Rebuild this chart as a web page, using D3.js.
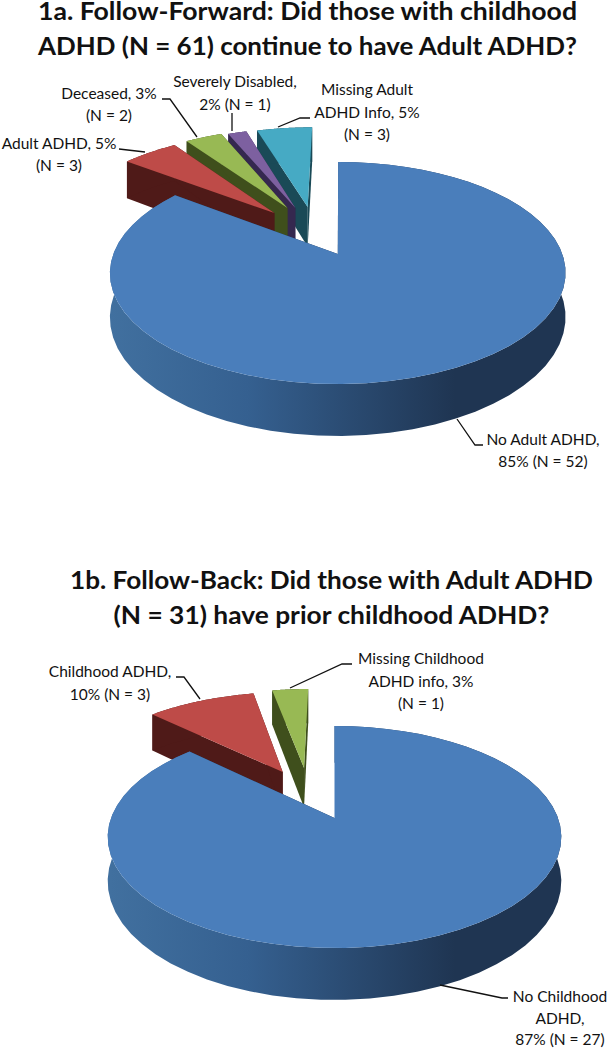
<!DOCTYPE html>
<html>
<head>
<meta charset="utf-8">
<script src="https://cdn.jsdelivr.net/npm/d3@7"></script>
<style>
  body { margin: 0; background: #fff; }
  text { font-family: Lato, "Open Sans", sans-serif; fill: #111; }
</style>
</head>
<body>
<div id="chart"></div>
<script>
// data
var categoriesA = ["No Adult ADHD", "Adult ADHD", "Deceased", "Severely Disabled", "Missing Adult ADHD Info"];
var valuesA = [52, 3, 2, 1, 3];
var categoriesB = ["No Childhood ADHD", "Childhood ADHD", "Missing Childhood ADHD info"];
var valuesB = [27, 3, 1];

var titleA = ["1a. Follow-Forward: Did those with childhood", "ADHD (N = 61) continue to have Adult ADHD?"];
var titleB = ["1b. Follow-Back: Did those with Adult ADHD", "(N = 31) have prior childhood ADHD?"];

var labelsA = [
  ["No Adult ADHD,", "85% (N = 52)"],
  ["Adult ADHD, 5%", "(N = 3)"],
  ["Deceased, 3%", "(N = 2)"],
  ["Severely Disabled,", "2% (N = 1)"],
  ["Missing Adult", "ADHD Info, 5%", "(N = 3)"]
];
var labelsB = [
  ["No Childhood", "ADHD,", "87% (N = 27)"],
  ["Childhood ADHD,", "10% (N = 3)"],
  ["Missing Childhood", "ADHD info, 3%", "(N = 1)"]
];

// slice colours: top, side
var tops = ["#4a7ebb", "#be4b48", "#98b954", "#7d60a0", "#46aac4"];
var sides = ["#1f3552", "#4f1a18", "#3f4f1c", "#35284f", "#1a4a57"];
var topsB = ["#4a7ebb", "#be4b48", "#98b954"];
var sidesB = ["#1f3552", "#4f1a18", "#3f4f1c"];

var width = 610;
var height = 1050;

var svg = d3.select("#chart")
  .append("svg")
  .attr("width", width)
  .attr("height", height);

var defs = svg.append("defs");
var grad = defs.append("linearGradient")
  .attr("id", "blueSide")
  .attr("gradientUnits", "userSpaceOnUse")
  .attr("x1", 110).attr("x2", 570).attr("y1", 0).attr("y2", 0);
grad.append("stop").attr("offset", "0").attr("stop-color", "#41709f");
grad.append("stop").attr("offset", "0.3").attr("stop-color", "#356090");
grad.append("stop").attr("offset", "0.75").attr("stop-color", "#1f3552");
grad.append("stop").attr("offset", "1").attr("stop-color", "#1f3552");

// draws one 3d pie, the slices are exploded on a tilted disk with some perspective
function drawPie(cfg) {
  var g = svg.append("g");
  var persp = 0.171;

  function project(u, v, drop) {
    var s = 1 / (1 - persp * v);
    return [
      cfg.cx + cfg.rx * u * s,
      cfg.cy + cfg.ry * v * s + (drop ? cfg.depth * s : 0)
    ];
  }

  var pie = d3.pie().sort(null)(cfg.values);
  var line = d3.line();

  // back slices first, last slice is furthest back, blue one goes on top of all
  var order = d3.range(pie.length - 1, 0, -1).concat([0]);

  order.forEach(function (i) {
    var d = pie[i];
    var off = cfg.offsets[i];
    var steps = d3.range(0, 61).map(function (k) {
      return d.startAngle + (d.endAngle - d.startAngle) * k / 60;
    });
    var pt = function (a, r, drop) {
      return project(off[0] + r * Math.sin(a), off[1] - r * Math.cos(a), drop);
    };
    var side = i === 0 ? "url(#blueSide)" : cfg.sides[i];

    // the two cut faces
    [d.startAngle, d.endAngle].forEach(function (a) {
      g.append("path")
        .attr("d", line([pt(a, 0), pt(a, 1), pt(a, 1, true), pt(a, 0, true)]) + "Z")
        .attr("fill", cfg.sides[i]);
    });

    // outer rim
    var rim = steps.map(function (a) { return pt(a, 1); })
      .concat(steps.slice().reverse().map(function (a) { return pt(a, 1, true); }));
    g.append("path")
      .attr("d", line(rim) + "Z")
      .attr("fill", side);

    // top
    var top = [pt(0, 0)].concat(steps.map(function (a) { return pt(a, 1); }));
    g.append("path")
      .attr("d", line(top) + "Z")
      .attr("fill", cfg.tops[i]);
  });

  // leader lines
  cfg.leaders.forEach(function (l) {
    g.append("path")
      .attr("d", line(l))
      .attr("fill", "none")
      .attr("stroke", "#111")
      .attr("stroke-width", 1.3);
  });

  // data labels
  cfg.labels.forEach(function (lines, i) {
    var p = cfg.labelPos[i];
    lines.forEach(function (t, j) {
      g.append("text")
        .attr("x", p[0])
        .attr("y", p[1] + j * p[2])
        .attr("text-anchor", "middle")
        .style("font-size", "15.5px")
        .text(t);
    });
  });

  // title, stretched a little to the width of the original lines
  cfg.title.forEach(function (t, j) {
    g.append("text")
      .attr("x", cfg.titleX)
      .attr("y", cfg.titleY + j * cfg.titleStep)
      .attr("text-anchor", "middle")
      .attr("textLength", cfg.titleWidths[j])
      .attr("lengthAdjust", "spacingAndGlyphs")
      .style("font-size", "25.5px")
      .style("font-weight", "700")
      .text(t);
  });
}

drawPie({
  values: valuesA,
  labels: labelsA,
  title: titleA,
  titleX: 307.5, titleY: 20, titleStep: 35, titleWidths: [539, 539],
  tops: tops, sides: sides,
  cx: 340.5, cy: 254, rx: 224.5, ry: 107.8, depth: 43,
  offsets: [[-0.012, 0], [-0.315, -0.406], [-0.255, -0.46], [-0.217, -0.46], [-0.158, -0.471]],
  labelPos: [[543, 445, 22], [59, 149, 22], [109, 99, 21.5], [235, 87, 23], [367, 95, 22.5]],
  leaders: [
    [[457, 419], [475, 445], [483, 445]],
    [[119, 149], [145, 152]],
    [[162, 99], [170, 99], [197, 137]],
    [[232, 113], [232, 131]],
    [[310, 118], [300, 118], [278, 127]]
  ]
});

drawPie({
  values: valuesB,
  labels: labelsB,
  title: titleB,
  titleX: 331.5, titleY: 589, titleStep: 35, titleWidths: [523, 436],
  tops: topsB, sides: sidesB,
  cx: 334.5, cy: 818, rx: 223.5, ry: 107.8, depth: 43,
  offsets: [[0, 0], [-0.25, -0.46], [-0.148, -0.504]],
  labelPos: [[560, 1002, 21.5], [110, 677, 23], [421, 664, 22.5]],
  leaders: [
    [[440, 985], [502, 998], [508, 998]],
    [[176, 677], [184, 677], [200, 699]],
    [[352, 664], [342, 664], [290, 688]]
  ]
});
</script>
</body>
</html>
